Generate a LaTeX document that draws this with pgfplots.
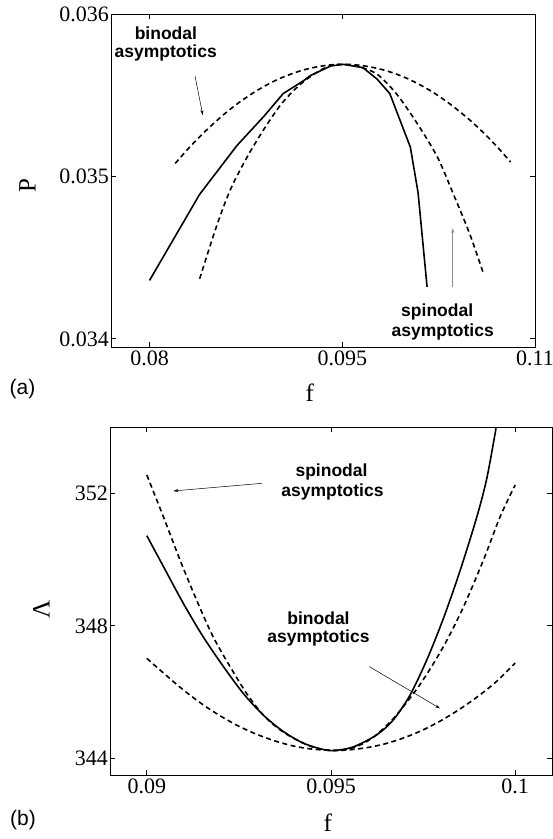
\documentclass[border=0pt]{standalone}
\usepackage{fontspec}
\setmainfont{Liberation Serif}
\newfontfamily\annfont{Liberation Sans}
\usepackage{pgfplots}
\pgfplotsset{compat=1.18}
\usetikzlibrary{arrows.meta}

\pgfplotsset{
  mystyle/.style={
    scale only axis, anchor=south west,
    axis line style={line width=0.8pt},
    tick style={line width=0.8pt, black},
    major tick length=5pt,
    tick align=inside,
    xtick pos=both, ytick pos=both,
    xticklabel pos=lower, yticklabel pos=left,
    ticklabel style={font=\fontsize{22}{24}\selectfont},
    yticklabel style={inner xsep=2pt},
    scaled ticks=false,
    label style={font=\fontsize{25}{27}\selectfont},
    clip=false,
  },
  solidc/.style={black, line width=1.6pt},
  dashc/.style={black, line width=1.6pt, dash pattern=on 5pt off 3.5pt},
}
\tikzset{ann/.style={font=\annfont\bfseries\fontsize{17.5}{20}\selectfont, inner sep=0pt}}

\begin{document}
\begin{tikzpicture}[x=1pt,y=1pt]
\useasboundingbox (0,0) rectangle (553,839);

% ---------------- panel (a) ----------------
\begin{axis}[mystyle, at={(111pt,492pt)}, width=424pt, height=333pt,
  xmin=0.077, xmax=0.11, ymin=0.03395, ymax=0.036,
  xtick={0.08,0.095,0.11}, xticklabels={0.08,0.095,0.11},
  ytick={0.034,0.035,0.036}, yticklabels={0.034,0.035,0.036},
  xlabel={f}, ylabel={P},
  xlabel style={at={(axis description cs:0.469,-0.138)}, anchor=center},
  ylabel style={at={(axis description cs:-0.197,0.486)}, anchor=center},
]
% solid
\addplot[solidc] coordinates {
(0.0800,0.03436) (0.0839,0.03489) (0.0868,0.03519) (0.0889,0.03537)
(0.0904,0.03551) (0.0920,0.03559) (0.0925,0.03562) (0.0941,0.03568)
(0.0951,0.03569) (0.0966,0.03567) (0.0977,0.03560) (0.0987,0.03551)
(0.1003,0.03518) (0.1009,0.03490) (0.1016,0.03432)
};
% binodal asymptotics (wide)
\addplot[dashc, smooth] coordinates {
(0.0820,0.035080) (0.0830,0.035170) (0.0840,0.035252) (0.0850,0.035327)
(0.0860,0.035396) (0.0870,0.035457) (0.0880,0.035511) (0.0890,0.035558)
(0.0900,0.035598) (0.0910,0.035630) (0.0920,0.035656) (0.0930,0.035674)
(0.0940,0.035686) (0.0951,0.035690) (0.0960,0.035687) (0.0970,0.035677)
(0.0980,0.035660) (0.0990,0.035636) (0.1000,0.035605) (0.1010,0.035566)
(0.1020,0.035521) (0.1030,0.035468) (0.1040,0.035408) (0.1050,0.035342)
(0.1060,0.035268) (0.1070,0.035187) (0.1081,0.035089)
};
% spinodal asymptotics (narrow)
\addplot[dashc, smooth] coordinates {
(0.0839,0.03437) (0.0852,0.03469) (0.0863,0.03492) (0.0876,0.03512)
(0.0889,0.03529) (0.0902,0.03544) (0.0915,0.03555) (0.0928,0.03563)
(0.0940,0.03568) (0.0951,0.03569) (0.0963,0.035675) (0.0977,0.03563)
(0.0992,0.03551) (0.1008,0.03533) (0.1024,0.03512) (0.1036,0.03490)
(0.1049,0.03465) (0.1060,0.03440)
};
\node[ann] at (axis cs:0.08127,0.035881) {binodal};
\node[ann] at (axis cs:0.08126,0.035758) {asymptotics};
\draw[-{Stealth[length=5pt,width=3pt]}, line width=0.5pt]
  (axis cs:0.08354,0.035618) -- (axis cs:0.08414,0.035378);
\node[ann] at (axis cs:0.10239,0.034167) {spinodal};
\node[ann] at (axis cs:0.10282,0.034044) {asymptotics};
\draw[-{Stealth[length=5pt,width=3pt]}, line width=0.6pt, black!45]
  (axis cs:0.10360,0.034317) -- (axis cs:0.10360,0.034681);
\end{axis}
\node[font=\annfont\fontsize{21}{24}\selectfont] at (22.5,450) {(a)};

% ---------------- panel (b) ----------------
\begin{axis}[mystyle, at={(110pt,64pt)}, width=442pt, height=348pt,
  xmin=0.089, xmax=0.101, ymin=343.5, ymax=354,
  xtick={0.09,0.095,0.1}, xticklabels={0.09,0.095,0.1},
  ytick={344,348,352}, yticklabels={344,348,352},
  xlabel={f}, ylabel={Λ},
  xlabel style={at={(axis description cs:0.493,-0.138)}, anchor=center},
  ylabel style={at={(axis description cs:-0.155,0.477)}, anchor=center},
]
% solid
\addplot[solidc, smooth] coordinates {
(0.0900,350.72) (0.09045,349.79) (0.09099,348.68) (0.09153,347.67)
(0.09208,346.77) (0.09262,345.96) (0.09316,345.31) (0.09371,344.81)
(0.09425,344.46) (0.09479,344.27) (0.0951,344.24) (0.09561,344.35)
(0.09624,344.71) (0.09669,345.16) (0.09714,345.90) (0.0976,346.97)
(0.09805,348.22) (0.0985,349.65) (0.09896,351.29) (0.09923,352.45)
(0.09948,353.96)
};
% spinodal asymptotics
\addplot[dashc, smooth] coordinates {
(0.0900,352.55) (0.09045,351.29) (0.0909,349.99) (0.09135,348.78)
(0.0918,347.67) (0.09226,346.77) (0.09271,345.96) (0.09316,345.31)
(0.09362,344.86) (0.0941,344.54) (0.0946,344.31) (0.0951,344.24)
(0.0956,344.32) (0.0961,344.60) (0.09669,345.20) (0.09741,346.22)
(0.09805,347.37) (0.0986,348.58) (0.09914,349.99) (0.09959,351.29)
(0.1000,352.25)
};
% binodal asymptotics
\addplot[dashc, smooth] coordinates {
(0.0900,347.02) (0.0905,346.53) (0.0910,346.06) (0.0915,345.64)
(0.0920,345.28) (0.0925,344.97) (0.0930,344.72) (0.0935,344.52)
(0.0940,344.37) (0.0945,344.28) (0.0951,344.24) (0.0955,344.26)
(0.0960,344.33) (0.0965,344.45) (0.0970,344.63) (0.0975,344.86)
(0.0980,345.15) (0.0985,345.49) (0.0990,345.88) (0.0995,346.33)
(0.1000,346.88)
};
\node[ann] at (axis cs:0.095014,352.65) {spinodal};
\node[ann] at (axis cs:0.09504,352.05) {asymptotics};
\draw[-{Stealth[length=5pt,width=3pt]}, line width=0.5pt]
  (axis cs:0.09312,352.30) -- (axis cs:0.09072,352.07);
\node[ann] at (axis cs:0.09466,348.23) {binodal};
\node[ann] at (axis cs:0.09466,347.62) {asymptotics};
\draw[-{Stealth[length=5pt,width=3pt]}, line width=0.5pt]
  (axis cs:0.09604,346.77) -- (axis cs:0.09796,345.51);
\end{axis}
\node[font=\annfont\fontsize{21}{24}\selectfont] at (23,19) {(b)};
\end{tikzpicture}
\end{document}
